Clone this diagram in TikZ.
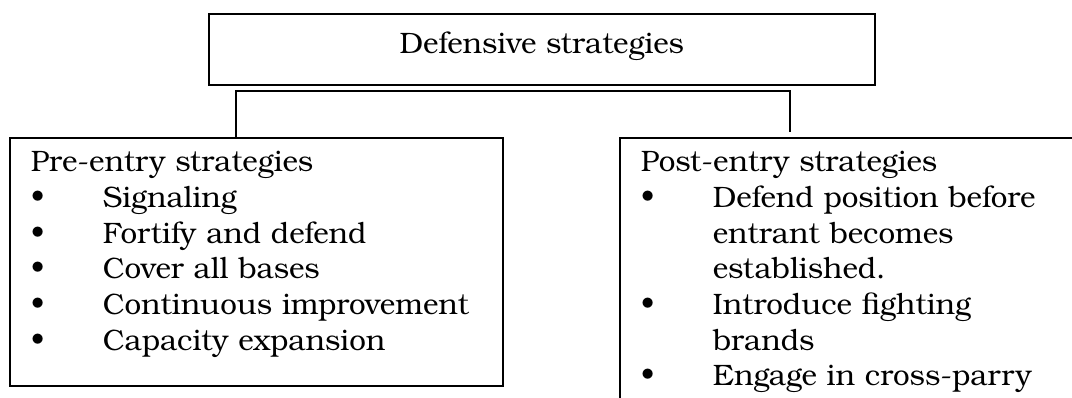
\documentclass[tikz,border=0pt]{standalone}
\usepackage{fontspec}
\setmainfont{TeX Gyre Bonum}
\usetikzlibrary{positioning}

\newcommand*{\itm}{\makebox[1.44cm][l]{\textbullet}}
\newcommand*{\cnt}{\hspace*{1.44cm}}

\begin{document}
\begin{tikzpicture}
[
	x=0.02cm, y=0.02cm,
	box/.style={draw,line width=1pt,rectangle,inner xsep=0.42cm,inner ysep=0pt,anchor=north west,align=left,font=\fontsize{16.8}{20.3}\selectfont},
	link/.style={draw,line width=1pt}
]

	\useasboundingbox (0,0) rectangle (1072,397);
	\clip (0,0) rectangle (1072,397);

	% top
	\node[box,inner xsep=0pt,align=center,text width=13.32cm,text height=0.8cm,text depth=0.62cm] at (208,384) (defense) {Defensive strategies};

	% pre-entry
	\node[box,text width=9.02cm,text height=0.68cm,text depth=4.28cm] at (9,260) (pre) {Pre-entry strategies\\
		\itm Signaling\\
		\itm Fortify and defend\\
		\itm Cover all bases\\
		\itm Continuous improvement\\
		\itm Capacity expansion};

	% post-entry
	\node[box,text width=9.0cm,text height=0.68cm,text depth=6cm] at (619,260) (post) {Post-entry strategies\\
		\itm Defend position before\\
		\cnt entrant becomes\\
		\cnt established.\\
		\itm Introduce fighting\\
		\cnt brands\\
		\itm Engage in cross-parry};

	% connector
	\coordinate (joint) at ([yshift=-0.1cm]defense.south);
	\coordinate (postend) at ([xshift=3.42cm,yshift=0.1cm]post.north west);
	\draw[link] ([xshift=4.54cm]pre.north west) |- (joint) -| (postend);

\end{tikzpicture}
\end{document}
